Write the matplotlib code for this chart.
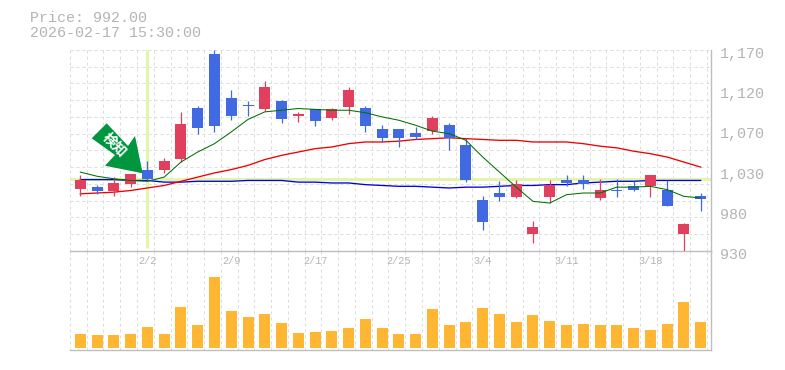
import matplotlib

matplotlib.use("Agg")
import matplotlib.pyplot as plt
import numpy as np
from matplotlib.patches import Polygon
from matplotlib.transforms import ScaledTranslation

plt.rcParams["font.family"] = ["Liberation Mono", "DejaVu Sans Mono"]

W, H = 785, 370

# Velas (una por sesion)
opens = [1004, 1006, 1001, 1010, 1027, 1027, 1040, 1101, 1165, 1113, 1104, 1100, 1109,
         1091, 1099, 1089, 1102, 1101, 1076, 1076, 1071, 1073, 1080, 1056, 991, 999,
         994, 950, 994, 1015, 1015, 993, 1003, 1007, 1007, 1003, 950, 996]
highs = [1021, 1009, 1018, 1022, 1037, 1041, 1096, 1103, 1170, 1122, 1109, 1133, 1110,
         1096, 1100, 1101, 1126, 1103, 1080, 1076, 1078, 1091, 1083, 1065, 995, 1013,
         1015, 966, 1015, 1021, 1021, 1016, 1016, 1013, 1021, 1015, 963, 999]
lows = [996, 998, 996, 1006, 1015, 1023, 1036, 1070, 1072, 1086, 1091, 1097, 1083,
        1084, 1079, 1086, 1094, 1072, 1060, 1054, 1064, 1070, 1050, 1012, 955, 989,
        993, 939, 987, 1007, 1004, 991, 994, 1001, 994, 983, 930, 977]
closes = [1015, 1001, 1011, 1022, 1016, 1037, 1082, 1077, 1079, 1091, 1103, 1126, 1087,
          1094, 1085, 1100, 1122, 1079, 1065, 1065, 1066, 1089, 1065, 1015, 964, 994,
          1010, 958, 1009, 1011, 1010, 1003, 1001, 1003, 1021, 983, 962, 992]

# Medias moviles
ma_short = [1024, 1019, 1016, 1014, 1013, 1018, 1036, 1048, 1058, 1072, 1087, 1096, 1098,
            1100, 1099, 1098, 1098, 1095, 1090, 1086, 1080, 1073, 1070, 1062, 1042, 1024,
            1006, 989, 987, 997, 999, 999, 1006, 1006, 1007, 1003, 995, 993]
ma_mid = [998, 999, 1000, 1002, 1005, 1008, 1013, 1018, 1023, 1027, 1032, 1039, 1044,
          1048, 1052, 1054, 1058, 1060, 1060, 1061, 1063, 1064, 1065, 1064, 1063, 1062,
          1062, 1060, 1060, 1060, 1058, 1055, 1053, 1049, 1046, 1042, 1036, 1030]
ma_long = [1015, 1015, 1015, 1014, 1014, 1012, 1012, 1013, 1013, 1013, 1014, 1014, 1014,
           1012, 1012, 1011, 1011, 1009, 1008, 1007, 1007, 1006, 1005, 1006, 1006, 1007,
           1008, 1008, 1009, 1009, 1011, 1012, 1013, 1013, 1014, 1014, 1014, 1014]

volumes = [1400, 1300, 1300, 1400, 2100, 1400, 4100, 2300, 7100, 3700, 3100, 3400, 2500,
           1500, 1600, 1700, 2000, 2900, 2000, 1400, 1400, 3900, 2300, 2600, 4000, 3400,
           2600, 3300, 2700, 2300, 2400, 2300, 2300, 2000, 1800, 2400, 4600, 2600]

date_pos = [4, 9, 14, 19, 24, 29, 34]
date_labels = ["2/2", "2/9", "2/17", "2/25", "3/4", "3/11", "3/18"]
price_labels = ["930", "980", "1,030", "1,070", "1,120", "1,170"]
cross_price = 1016
cross_idx = 4

RED = "#E0405E"
BLUE = "#4169E1"
GRID = "#DDDDDD"
FRAME = "#BEBEBE"
TEXT = "#B4B4B4"
HILITE = "#E2F5A8"
ORANGE = "#FFB733"


def px_axes(left, top, right, bottom):
    return [left / W, 1 - bottom / H, (right - left) / W, (bottom - top) / H]


x = np.arange(len(opens))
fig = plt.figure(figsize=(W / 100, H / 100), dpi=100)
ax = fig.add_axes(px_axes(70.3, 50, 710.7, 250.7), zorder=2)
ax_vol = fig.add_axes(px_axes(70.3, 250.7, 710.7, 350), zorder=1)
ax.patch.set_alpha(0)

dash = (0, (3, 3))
for a in (ax, ax_vol):
    a.set_xlim(-0.6, 37.6)
    a.set_axisbelow(True)
    for g in np.append(-0.6, x + 0.38):
        a.axvline(g, color=GRID, lw=0.72, ls=dash, zorder=0)
    for s in ("top", "left"):
        a.spines[s].set_visible(False)
    for s in ("bottom", "right"):
        a.spines[s].set_color(FRAME)
        a.spines[s].set_linewidth(1.0)

# Panel de precios
ax.set_ylim(930, 1170)
for g in np.arange(950, 1171, 20):
    ax.axhline(g, color=GRID, lw=0.72, ls=dash, zorder=0)
ax.axhline(cross_price, color=HILITE, lw=2.2, zorder=1)
ax.plot([cross_idx, cross_idx], [933, 1170], color=HILITE, lw=2.2, zorder=1, solid_capstyle="butt")

ax.plot(x, ma_long, color="#0000E6", lw=0.95, zorder=2)
ax.plot(x, ma_mid, color="#F00000", lw=0.95, zorder=2)

for i in x:
    color = RED if closes[i] >= opens[i] else BLUE
    ax.vlines(i, lows[i], highs[i], color=color, lw=0.9, zorder=3)
    body_low = min(opens[i], closes[i])
    body_h = abs(closes[i] - opens[i])
    ax.bar(i, body_h, bottom=body_low, width=0.656, color=color, linewidth=0, zorder=3)

ax.plot(x, ma_short, color="#007000", lw=0.75, zorder=4)

ax.yaxis.tick_right()
ax.set_yticks(np.linspace(930, 1170, 6))
ax.set_yticklabels(price_labels, color=TEXT, fontsize=10.8)
ax.tick_params(axis="y", length=0, pad=6.8)
offset = ScaledTranslation(0, -2.7 / 100, fig.dpi_scale_trans)
for label in ax.get_yticklabels():
    label.set_transform(label.get_transform() + offset)
ax.set_xticks(date_pos)
ax.set_xticklabels(date_labels, color=TEXT, fontsize=7.4)
ax.tick_params(axis="x", length=0, pad=4)

# Panel de volumen
ax_vol.set_ylim(-200, 9730)
ax_vol.bar(x, volumes, width=0.656, color=ORANGE, linewidth=0, zorder=2)
ax_vol.set_yticks([])
ax_vol.set_xticks([])

# Flecha de senal
arrow_px = [(91.7, 138.3), (106.7, 123.3), (128, 146), (135, 136), (142.7, 173.3), (105, 165.7), (115, 155)]
arrow_fig = [(px / W, 1 - py / H) for px, py in arrow_px]
fig.add_artist(Polygon(arrow_fig, closed=True, transform=fig.transFigure, facecolor="#009640",
                       edgecolor="none", zorder=5))
fig.text(114 / W, 1 - 145 / H, "検知", color="white", fontsize=10, fontweight="bold", rotation=-45,
         rotation_mode="anchor", ha="center", va="center", zorder=6,
         family=["Noto Sans CJK JP", "DejaVu Sans"])

# Cabecera
fig.text(29.5 / W, 1 - 18 / H, "Price: 992.00", color=TEXT, fontsize=10.8, va="center")
fig.text(29.5 / W, 1 - 33 / H, "2026-02-17 15:30:00", color=TEXT, fontsize=10.8, va="center")

fig.savefig("out.png", dpi=100)
